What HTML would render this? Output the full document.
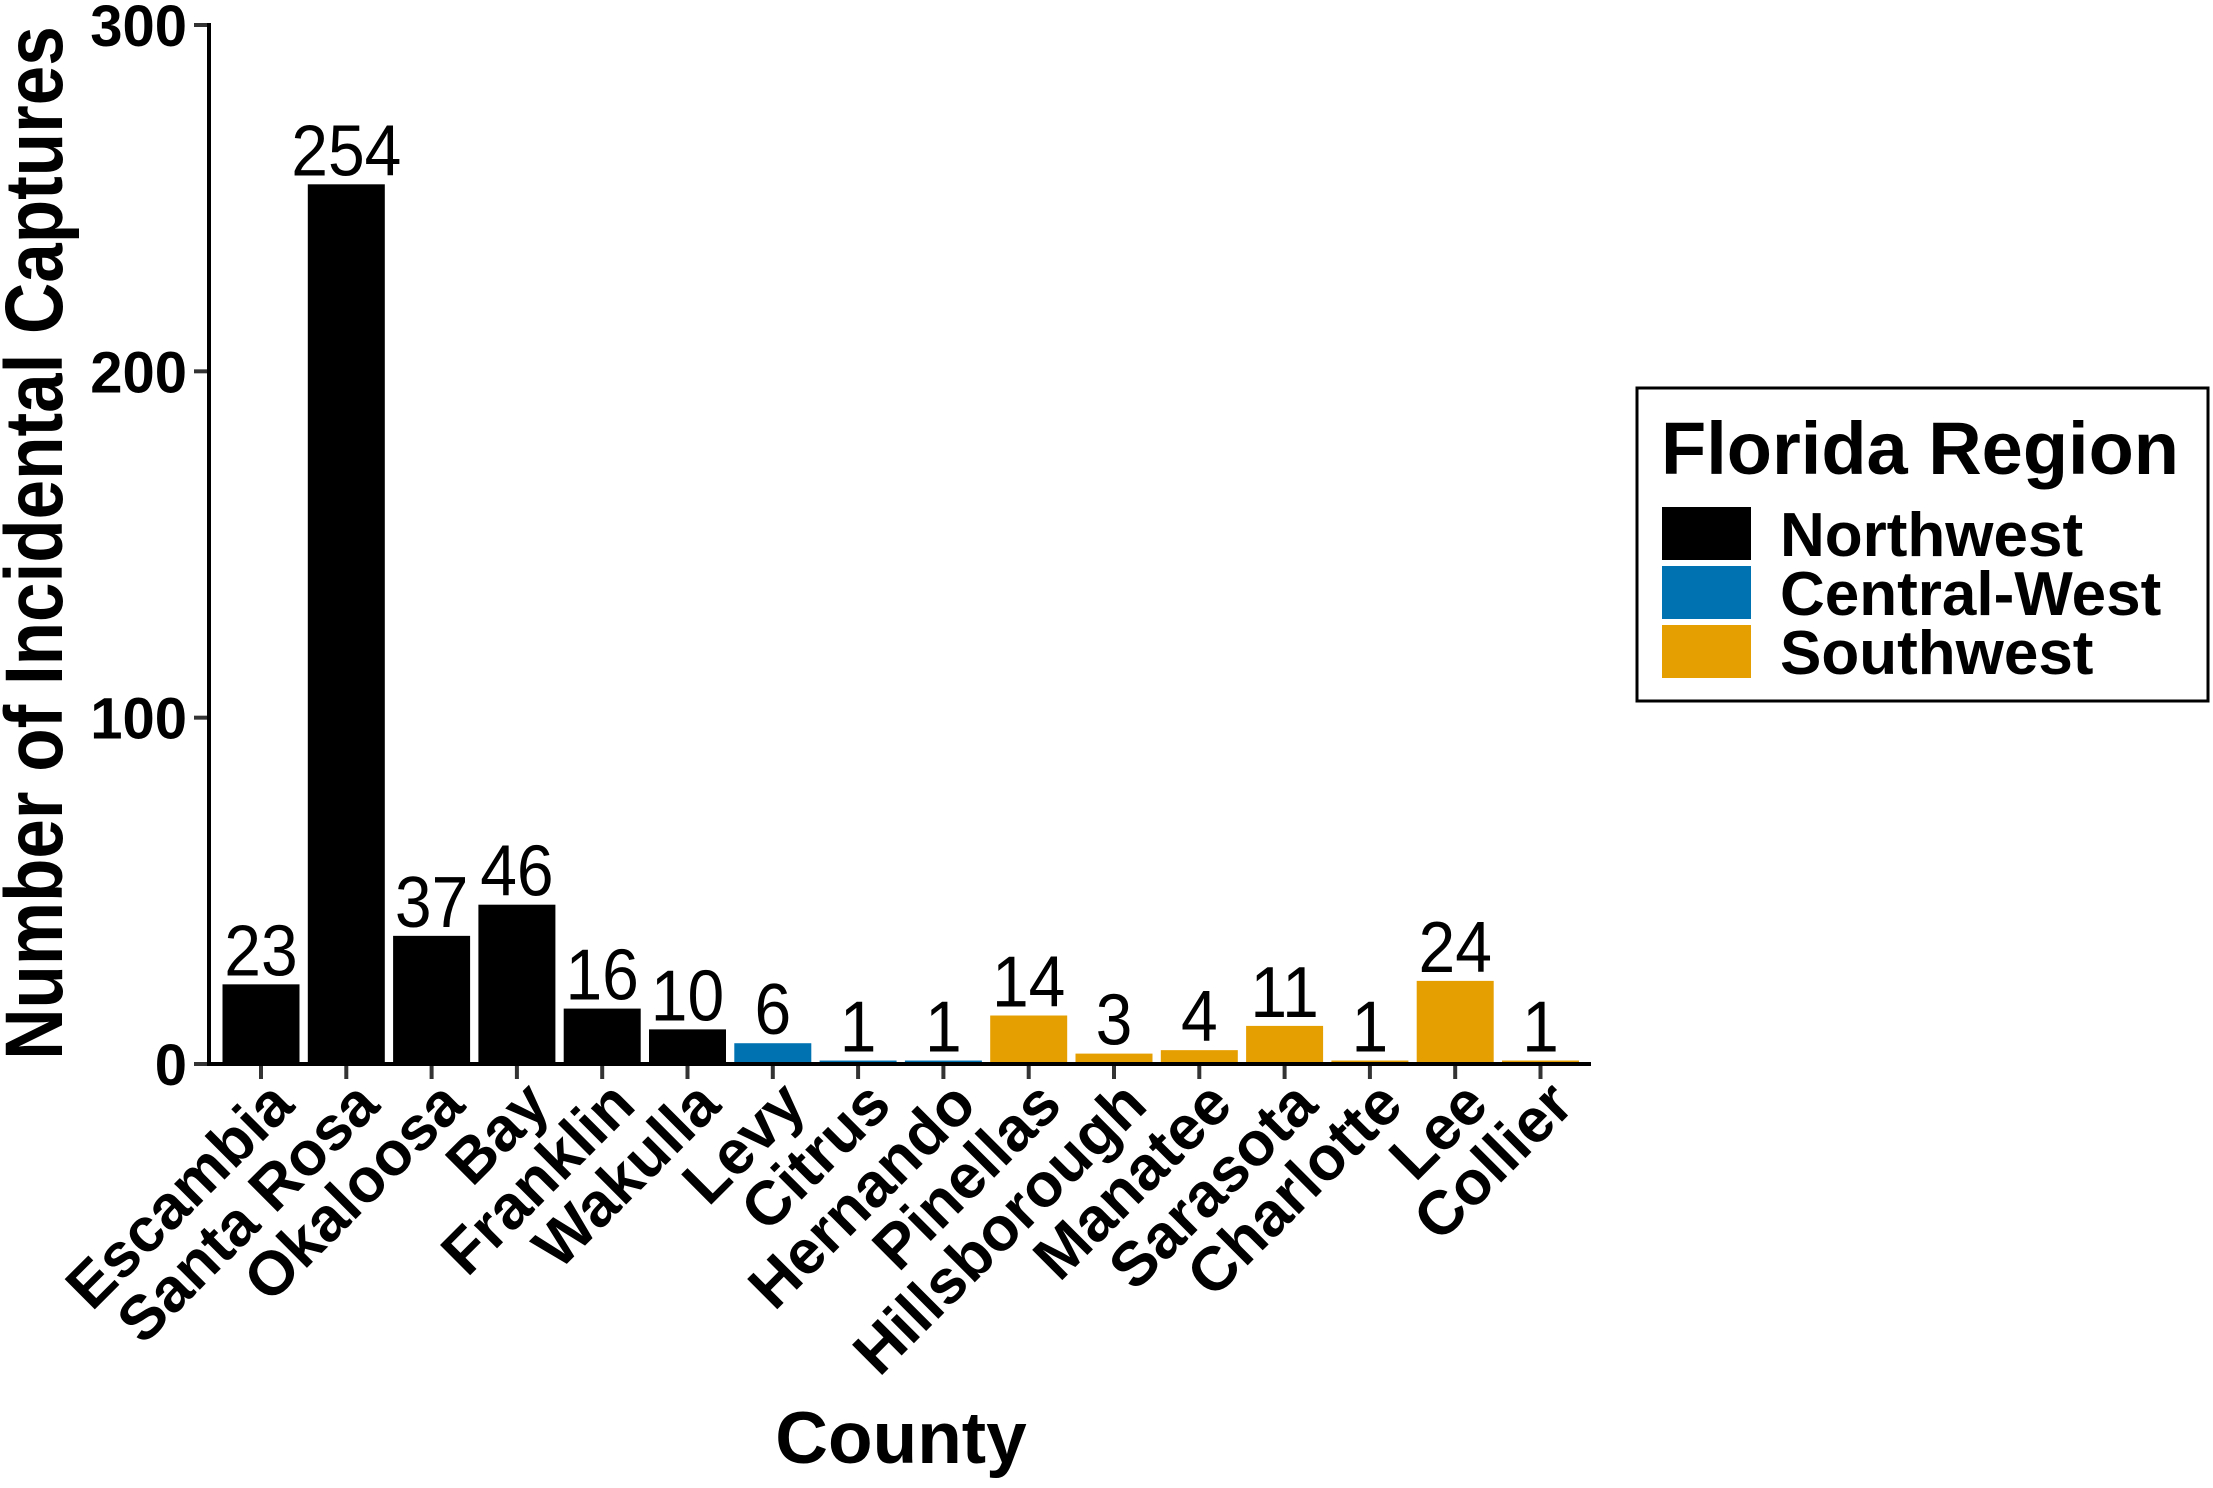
<!DOCTYPE html>
<html><head><meta charset="utf-8"><style>
html,body{margin:0;padding:0;background:#fff}
svg text{font-family:"Liberation Sans",Arial,sans-serif}
</style></head><body>
<svg id="chart" width="2213" height="1483" viewBox="0 0 2213 1483" xmlns="http://www.w3.org/2000/svg">
<g id="plot"></g>
<text x="0" y="0" transform="translate(62,543) rotate(-90) scale(1,1.15)" text-anchor="middle" font-weight="bold" font-size="71">Number of Incidental Captures</text>
<text x="901" y="1463" text-anchor="middle" font-weight="bold" font-size="73">County</text>
<g>
<rect x="1637" y="388" width="571" height="313" fill="#fff" stroke="#000" stroke-width="3"/>
<text x="1661" y="474" font-weight="bold" font-size="74">Florida Region</text>
<rect x="1662" y="507" width="89" height="53" fill="#000"/>
<rect x="1662" y="566" width="89" height="53" fill="#0072B2"/>
<rect x="1662" y="625" width="89" height="53" fill="#E69F00"/>
<text x="1780" y="556" font-weight="bold" font-size="62">Northwest</text>
<text x="1780" y="615" font-weight="bold" font-size="62">Central-West</text>
<text x="1780" y="674" font-weight="bold" font-size="62">Southwest</text>
</g>
</svg>
<script>
const counties = ["Escambia","Santa Rosa","Okaloosa","Bay","Franklin","Wakulla","Levy","Citrus","Hernando","Pinellas","Hillsborough","Manatee","Sarasota","Charlotte","Lee","Collier"];
const captures = [23,254,37,46,16,10,6,1,1,14,3,4,11,1,24,1];
const regions = ["NW","NW","NW","NW","NW","NW","CW","CW","CW","SW","SW","SW","SW","SW","SW","SW"];
const yTicks = [0,100,200,300];
const regionColors = {NW:"#000000",CW:"#0072B2",SW:"#E69F00"};

const NS = "http://www.w3.org/2000/svg";
const g = document.getElementById('plot');
const x0 = 209, x1 = 1591, yBase = 1064, yTop = 25, yMax = 300;
const step = 85.3;
const bw = 77;
const y = v => yBase - (v / yMax) * (yBase - yTop);
const xc = i => x0 + 52 + step * i;
function mk(tag, attrs){const e=document.createElementNS(NS,tag);for(const k in attrs)e.setAttribute(k,attrs[k]);g.appendChild(e);return e;}

captures.forEach((v,i)=>{
  const r = mk('rect',{x:xc(i)-bw/2,y:y(v),width:bw,height:yBase-y(v),fill:regionColors[regions[i]]});
  
  
  const t = mk('text',{x:xc(i),y:y(v)-9,'text-anchor':'middle','font-size':66,transform:`translate(${xc(i)} ${y(v)-9}) scale(1,1.1) translate(${-xc(i)} ${-(y(v)-9)})`});
  t.textContent = v;
  
  
  const tk = mk('line',{x1:xc(i),x2:xc(i),y1:yBase,y2:yBase+15,stroke:'#333','stroke-width':4});
  
  
  const ax = xc(i)+4, ay = yBase+12;
  const lb = mk('text',{x:ax,y:ay,'text-anchor':'end','font-size':62,'font-weight':'bold',dy:'0.72em',transform:`rotate(-45 ${ax} ${ay})`});
  lb.textContent = counties[i];
  
  
});
yTicks.forEach(v=>{
  const tk = mk('line',{x1:x0-15,x2:x0,y1:y(v),y2:y(v),stroke:'#333','stroke-width':4});
  
  
  const t = mk('text',{x:x0-22,y:y(v)+21,'text-anchor':'end','font-size':58,'font-weight':'bold'});
  t.textContent = v;
  
  
});
const ya = mk('line',{x1:x0,x2:x0,y1:yTop-2,y2:yBase+2,stroke:'#000','stroke-width':4});


const xa = mk('line',{x1:x0-2,x2:x1,y1:yBase,y2:yBase,stroke:'#000','stroke-width':4});


</script>
</body></html>
